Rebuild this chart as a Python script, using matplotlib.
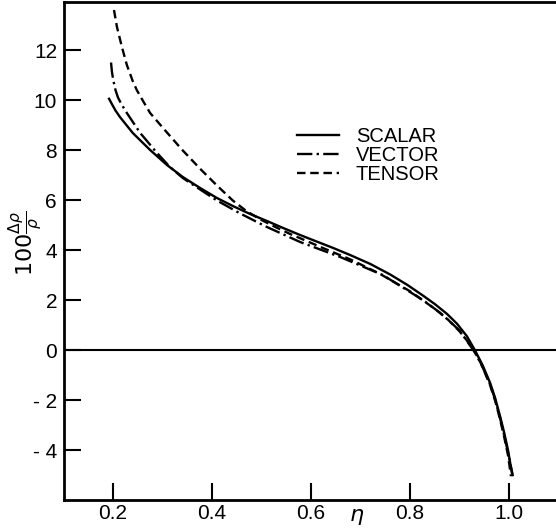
import matplotlib
matplotlib.use("Agg")
import matplotlib.pyplot as plt

plt.rcParams['font.family'] = ['Liberation Sans', 'DejaVu Sans']
plt.rcParams['mathtext.fontset'] = 'dejavusans'

# --- data ---
scalar_x = [0.192, 0.198, 0.205, 0.214, 0.240, 0.275, 0.309, 0.341, 0.376, 0.410,
            0.442, 0.477, 0.511, 0.545, 0.578, 0.610, 0.645, 0.679, 0.720, 0.760,
            0.795, 0.826, 0.850, 0.875, 0.895, 0.915, 0.931, 0.947, 0.962, 0.972,
            0.982, 0.990, 0.998, 1.006]
scalar_y = [10.05, 9.83, 9.58, 9.32, 8.68, 8.0, 7.4, 6.92, 6.48, 6.08,
            5.76, 5.44, 5.16, 4.87, 4.6, 4.35, 4.08, 3.8, 3.44, 3.02,
            2.6, 2.18, 1.84, 1.44, 1.05, 0.55, 0.0, -0.62, -1.32, -1.92,
            -2.65, -3.28, -4.0, -4.92]

vector_x = [0.196, 0.198, 0.201, 0.205, 0.210, 0.218, 0.228, 0.255, 0.289, 0.315,
            0.341, 0.376, 0.410, 0.457, 0.511, 0.578, 0.659, 0.745, 0.826, 0.860,
            0.880, 0.900, 0.915, 0.932, 0.947, 0.962, 0.972, 0.982, 0.990, 0.998,
            1.008]
vector_y = [11.5, 11.1, 10.75, 10.4, 10.1, 9.8, 9.48, 8.68, 7.88, 7.32,
            6.88, 6.42, 5.98, 5.46, 4.92, 4.32, 3.72, 3.0, 2.0, 1.5,
            1.15, 0.78, 0.36, -0.12, -0.7, -1.38, -1.98, -2.72, -3.38, -4.1,
            -5.05]

tensor_x = [0.202, 0.208, 0.218, 0.228, 0.240, 0.248, 0.261, 0.275, 0.309, 0.341,
            0.376, 0.410, 0.442, 0.470, 0.500, 0.530, 0.558, 0.590, 0.624, 0.680,
            0.739, 0.800, 0.850, 0.875, 0.900, 0.915, 0.930, 0.945, 0.962, 0.972,
            0.982, 0.990, 0.998, 1.004]
tensor_y = [13.6, 12.92, 12.12, 11.4, 10.75, 10.4, 9.95, 9.48, 8.7, 7.98,
            7.25, 6.58, 5.98, 5.55, 5.2, 4.9, 4.64, 4.37, 4.08, 3.62,
            3.05, 2.35, 1.65, 1.25, 0.75, 0.38, -0.05, -0.6, -1.42, -2.02,
            -2.78, -3.45, -4.2, -5.05]

series_labels = ["SCALAR", "VECTOR", "TENSOR"]
xtick_values = [0.2, 0.4, 0.6, 0.8, 1.0]
xtick_labels = ["0.2", "0.4", "0.6", "0.8", "1.0"]
ytick_values = [-4, -2, 0, 2, 4, 6, 8, 10, 12]
ytick_labels = ["- 4", "- 2", "0", "2", "4", "6", "8", "10", "12"]

W, H = 556, 529
fig = plt.figure(figsize=(W / 100, H / 100), dpi=100)
ax = fig.add_axes([64 / W, 1 - 500 / H, 1 - 64 / W, (500 - 2) / H])

lw = 1.7
ax.plot(scalar_x, scalar_y, color='black', lw=lw, ls='-', label=series_labels[0])
ax.plot(vector_x, vector_y, color='black', lw=lw, ls=(0, (6.5, 1.8, 1, 1.8)), label=series_labels[1])
ax.plot(tensor_x, tensor_y, color='black', lw=lw, ls=(0, (3.6, 2.0)), label=series_labels[2])
ax.axhline(0, color='black', lw=1.5)

ax.set_xlim(0.101, 1.095)
ax.set_ylim(-6, 13.92)

ax.set_xticks(xtick_values)
ax.set_xticklabels(xtick_labels)
ax.set_yticks(ytick_values)
ax.set_yticklabels(ytick_labels)
ax.tick_params(direction='in', length=12, width=1.5, labelsize=15, pad=5)
ax.tick_params(axis='x', pad=3)

for side in ['left', 'bottom', 'top']:
    ax.spines[side].set_linewidth(2)
ax.spines['right'].set_visible(False)

ax.annotate(r'$\eta$', xy=(0.693, 0), xycoords=('data', 'axes fraction'),
            xytext=(0, -4), textcoords='offset points', ha='center', va='top',
            fontsize=16)

fig.text(26 / W, 1 - 243 / H, r'$100\frac{\Delta\rho}{\rho}$', rotation=90,
         ha='center', va='center', fontsize=16)

ax.legend(loc='upper left', bbox_to_anchor=(297 / W, 1 - 127 / H),
          bbox_transform=fig.transFigure, frameon=False, fontsize=14.5,
          borderpad=0, borderaxespad=0, handlelength=2.1, handletextpad=0.82,
          labelspacing=0.0)

fig.savefig('out.png', dpi=100)
